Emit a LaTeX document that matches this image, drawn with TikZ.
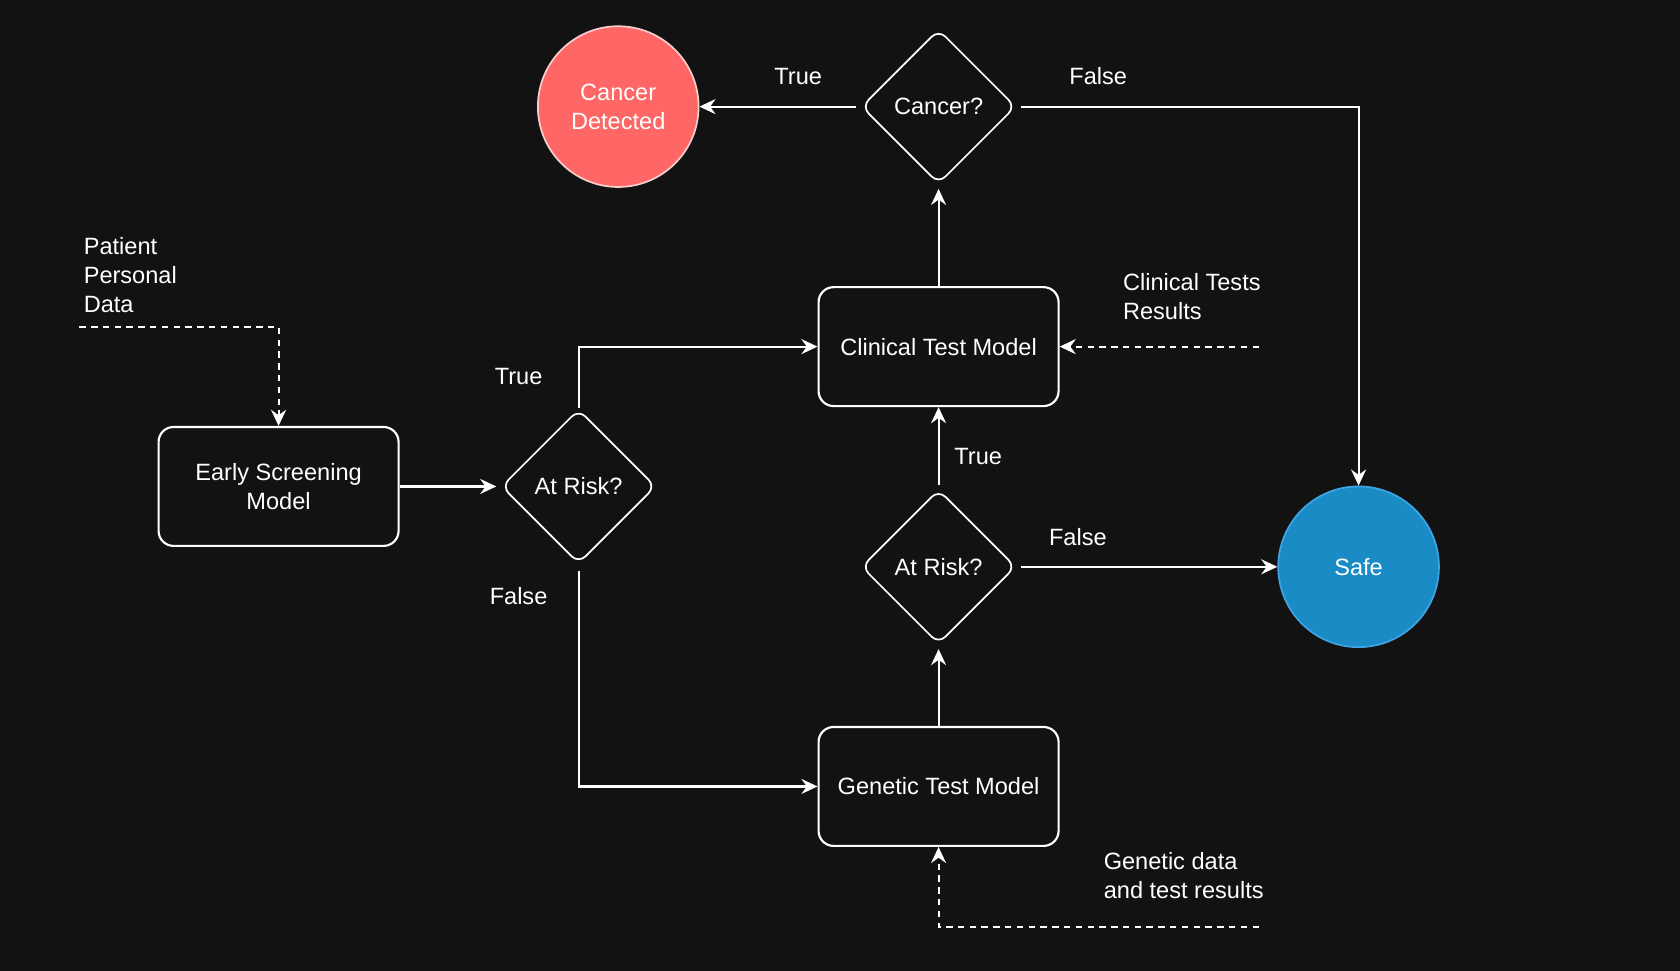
\documentclass[tikz,border=0pt]{standalone}
\usepackage{fontspec}
\setmainfont{Liberation Sans}
\usetikzlibrary{shapes.geometric,arrows.meta,calc}
\definecolor{bg}{HTML}{121212}
\definecolor{redfill}{HTML}{FF6666}
\definecolor{redline}{HTML}{F8CECC}
\definecolor{bluefill}{HTML}{1B8BC6}
\definecolor{blueline}{HTML}{3DA5E6}
\begin{document}
\begin{tikzpicture}[x=1pt,y=-1pt,
  font=\fontsize{22}{27}\selectfont,
  every node/.style={text=white},
  box/.style={draw=white, line width=2pt, rounded corners=14pt, minimum width=224pt, minimum height=111pt, fill=bg, align=center},
  dia/.style={diamond, draw=white, line width=1.6pt, rounded corners=9pt, minimum width=144pt, minimum height=144pt, inner sep=0pt, align=center},
  circ/.style={circle, line width=1.6pt, minimum size=150pt, inner sep=0pt, align=center},
  conn/.style={draw=white, line width=2pt, -{Stealth[length=15pt,width=14pt,inset=5pt]}},
  dconn/.style={conn, dash pattern=on 6pt off 5pt},
  lbl/.style={inner sep=0pt, align=left}
]
\fill[bg] (0,0) rectangle (1568,906);
\useasboundingbox (0,0) rectangle (1568,906);

% nodes
\node[circ, fill=redfill, draw=redline] (cd) at (577,99.5) {Cancer\\Detected};
\node[dia] (cq) at (876,99.5) {Cancer?};
\node[box] (ct) at (876,323.5) {Clinical Test Model};
\node[box] (es) at (260,454) {Early Screening\\Model};
\node[dia] (ar1) at (540,454) {At Risk?};
\node[dia] (ar2) at (876,529) {At Risk?};
\node[circ, fill=bluefill, draw=blueline] (safe) at (1268,529) {Safe};
\node[box] (gt) at (876,734) {Genetic Test Model};

% free ends
\coordinate (pd) at (74,305);
\coordinate (ctr) at (1175,323.5);
\coordinate (gd) at (1175,865);

% text labels
\node[lbl, anchor=west] (lpd) at (78,257) {Patient\\Personal\\Data};
\node[lbl, anchor=west] (lctr) at (1048,277) {Clinical Tests\\Results};
\node[lbl, anchor=west] (lgd) at (1030,817) {Genetic data\\and test results};
\node[lbl] (t1) at (745,71) {True};
\node[lbl] (f1) at (1025,71) {False};
\node[lbl] (t2) at (484,351) {True};
\node[lbl] (f2) at (484,556) {False};
\node[lbl] (t3) at (913,426) {True};
\node[lbl] (f3) at (1006,501) {False};

% connectors
\draw[conn] ($(cq.west)+(-4,0)$) -- (cd.east);
\draw[conn] ($(cq.east)+(4,0)$) -| (safe.north);
\draw[conn] (ct.north) -- ($(cq.south)+(0,4)$);
\draw[dconn] (ctr) -- (ct.east);
\draw[conn] (ar1.north) |- (ct.west);
\draw[conn] (es.east) -- ($(ar1.west)+(-4,0)$);
\draw[dconn] (pd) -| (es.north);
\draw[conn] ($(ar1.south)+(0,6)$) |- (gt.west);
\draw[conn] (gt.north) -- ($(ar2.south)+(0,4)$);
\draw[conn] ($(ar2.north)+(0,-4)$) -- (ct.south);
\draw[conn] ($(ar2.east)+(4,0)$) -- (safe.west);
\draw[dconn] (gd) -| (gt.south);
\end{tikzpicture}
\end{document}
